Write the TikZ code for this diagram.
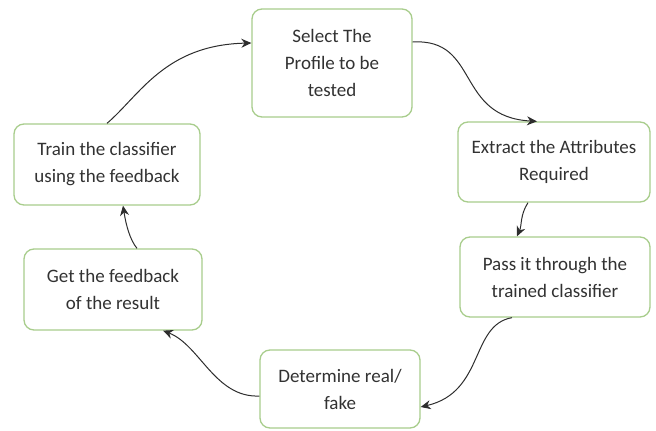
\documentclass[tikz,border=0pt]{standalone}
\usepackage{fontspec}
\setmainfont{Carlito}
\usetikzlibrary{arrows.meta}
\definecolor{boxgreen}{RGB}{168,205,140}
\definecolor{txtgray}{RGB}{50,50,50}
\definecolor{linegray}{RGB}{45,45,45}
\tikzset{
  stepbox/.style={draw=boxgreen, line width=1.3pt, rounded corners=10pt, fill=white,
    align=center, text=txtgray, font=\fontsize{19}{27}\selectfont, inner sep=0pt},
  flow/.style={draw=linegray, line width=1pt, -{Stealth[length=10pt,width=9pt]}}
}
\begin{document}
\begin{tikzpicture}[x=1pt,y=-1pt]
\useasboundingbox (0,0) rectangle (656,431);
\node[stepbox, minimum width=160pt, minimum height=108pt] (select) at (332,63) {Select The\\Profile to be\\tested};
\node[stepbox, minimum width=192pt, minimum height=80pt] (extract) at (554,162) {Extract the Attributes\\Required};
\node[stepbox, minimum width=190pt, minimum height=80pt] (pass) at (555,277) {Pass it through the\\trained classifier};
\node[stepbox, minimum width=160pt, minimum height=78pt] (determine) at (340,389) {Determine real/\\fake};
\node[stepbox, minimum width=178pt, minimum height=81pt] (get) at (113,289.5) {Get the feedback\\of the result};
\node[stepbox, minimum width=186pt, minimum height=81pt] (train) at (107,164.5) {Train the classifier\\using the feedback};
\draw[flow] (train.north) .. controls (140,95) and (165,45) .. (select.west |- 0,43);
\draw[flow] (select.east |- 0,42) .. controls (480,38) and (455,117) .. (extract.north -| 537,0);
\draw[flow] (extract.south -| 528,0) .. controls (520,215) and (522,225) .. (pass.north -| 517,0);
\draw[flow] (pass.south -| 512,0) .. controls (470,325) and (485,392) .. (determine.east |- 0,407);
\draw[flow] (determine.west |- 0,396) .. controls (215,398) and (200,345) .. (get.south -| 163,0);
\draw[flow] (get.north -| 137,0) .. controls (130,240) and (126,225) .. (train.south -| 123,0);
\end{tikzpicture}
\end{document}
